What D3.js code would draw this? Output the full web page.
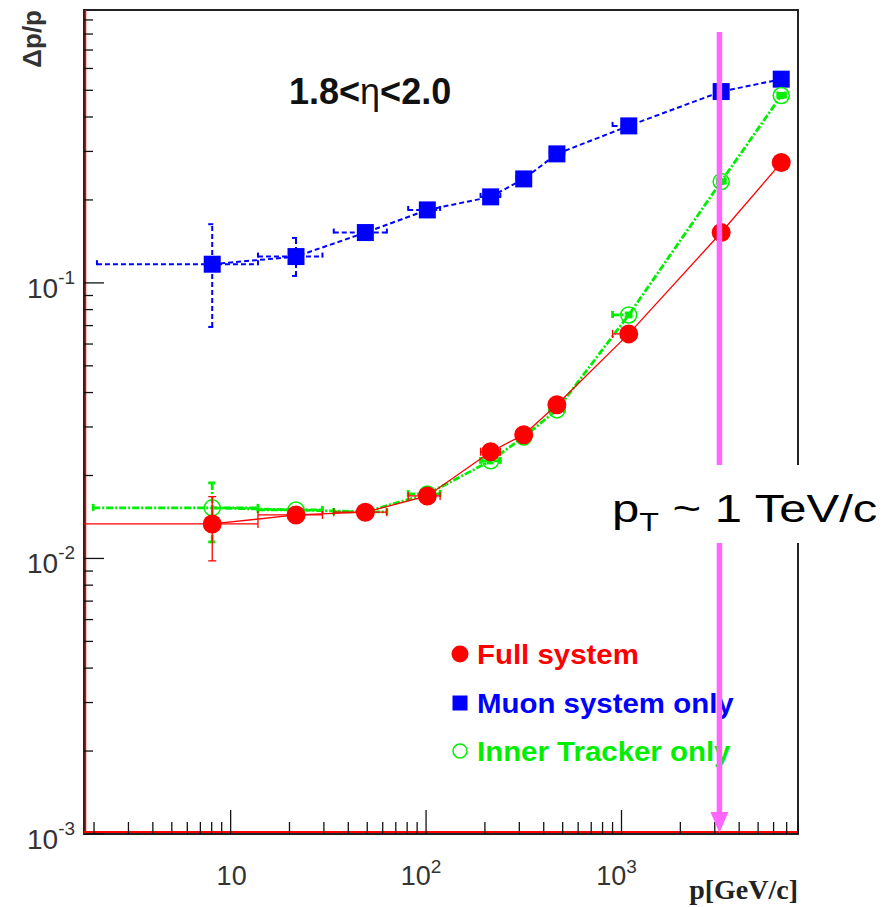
<!DOCTYPE html>
<html><head><meta charset="utf-8">
<script src="https://cdn.jsdelivr.net/npm/d3@7"></script>
<style>body{margin:0;background:#fff}svg{display:block}text{font-family:Arial,"Liberation Sans",Helvetica,sans-serif}</style>
</head><body>
<script>
// ---- data ----
const pValues = [8.05, 21.6, 48.9, 101.5, 214, 316, 467, 1089, 3236, 6566];
const xLo = [2.07, 13.8, 33.7, 81, 190, 290, 430, 900, 3100, 6300];
const xHi = [13.8, 29.5, 63, 118, 240, 340, 510, 1120, 3400, 6900];
const fullSystem = [0.01334, 0.01438, 0.01472, 0.01686, 0.0244, 0.0281, 0.0361, 0.0653, 0.1523, 0.2733];
const fullErrLo = [0.0098, 0.0141, 0.0145, 0.0165, 0.0239, 0.0276, 0.0355, 0.0642, 0.150, 0.270];
const fullErrHi = [0.01676, 0.0147, 0.0150, 0.0172, 0.0249, 0.0286, 0.0367, 0.0664, 0.155, 0.277];
const muonOnly = [0.1169, 0.1246, 0.1523, 0.184, 0.2052, 0.2384, 0.2939, 0.3713, 0.4947, 0.5487];
const muonErrLo = [0.0692, 0.106, 0.148, 0.175, 0.199, 0.232, 0.282, 0.362, 0.482, 0.535];
const muonErrHi = [0.1633, 0.1456, 0.157, 0.193, 0.212, 0.245, 0.307, 0.381, 0.508, 0.563];
const innerTracker = [0.01526, 0.0150, 0.01475, 0.01714, 0.0226, 0.0276, 0.0346, 0.0765, 0.2332, 0.4785];
const innerErrLo = [0.01148, 0.0147, 0.0145, 0.0168, 0.0222, 0.0271, 0.0340, 0.0752, 0.229, 0.470];
const innerErrHi = [0.0188, 0.0153, 0.0150, 0.0175, 0.0230, 0.0281, 0.0352, 0.0778, 0.237, 0.487];
const firstXLo = {full: 1.5, muon: 2.07, inner: 1.98};
const xTickVals = [10, 100, 1000];
const xTickLabels = [["10",""], ["10","2"], ["10","3"]];
const yTickVals = [0.1, 0.01, 0.001];
const yTickLabels = [["10","-1"], ["10","-2"], ["10","-3"]];
const legendLabels = ["Full system", "Muon system only", "Inner Tracker only"];
const titleParts = ["1.8<", "η", "<2.0"];
const markerP = 3170; // pT ~ 1 TeV/c marker position

const W = 891, H = 907;
const L = 84, R = 798, T = 10, B = 834;
const svg = d3.select("body").append("svg").attr("width", W).attr("height", H);
const x = d3.scaleLog().domain([1.777, 8000]).range([L, R]);
const y = d3.scaleLog().domain([0.001, 0.978]).range([B, T]);

svg.append("defs").append("clipPath").attr("id","clip")
  .append("rect").attr("x", L).attr("y", T).attr("width", R-L).attr("height", B-T);

// frame
svg.append("rect").attr("x", L).attr("y", T).attr("width", R-L).attr("height", B-T)
  .attr("fill","none").attr("stroke","#222").attr("stroke-width",2);
svg.append("line").attr("x1", L+1.5).attr("x2", L+1.5).attr("y1", T).attr("y2", B).attr("stroke","#e00").attr("stroke-width",1.5);
svg.append("line").attr("x1", L).attr("x2", R).attr("y1", B-2).attr("y2", B-2).attr("stroke","#f00").attr("stroke-width",2);

// x ticks
const xMinor = [];
[1,10,100,1000].forEach(d => { for (let k=1;k<10;k++){ const v=d*k; if (v>=1.777 && v<=8000) xMinor.push(v);} });
svg.append("g").selectAll("line").data(xMinor).join("line")
  .attr("x1", d=>x(d)).attr("x2", d=>x(d))
  .attr("y1", B).attr("y2", d => xTickVals.includes(d) ? B-24 : B-12)
  .attr("stroke","#111").attr("stroke-width",1.3);
const xl = svg.append("g").selectAll("text").data(xTickVals).join("text")
  .attr("x", (d,i)=> x(d) + (xTickLabels[i][1] ? -5 : 1)).attr("y", 885)
  .attr("text-anchor","middle").attr("font-size",27).attr("fill","#333");
xl.append("tspan").text((d,i)=>xTickLabels[i][0]);
xl.append("tspan").attr("dy",-12).attr("font-size",19).text((d,i)=>xTickLabels[i][1]);

// y ticks
const yMinor = [];
[0.001,0.01,0.1].forEach(d => { for (let k=1;k<10;k++){ const v=d*k; if (v<=0.978) yMinor.push(v);} });
svg.append("g").selectAll("line").data(yMinor).join("line")
  .attr("x1", L).attr("x2", d => yTickVals.some(t=>Math.abs(t-d)<1e-9) ? L+20 : L+9)
  .attr("y1", d=>y(d)).attr("y2", d=>y(d))
  .attr("stroke","#111").attr("stroke-width",1.3);
const yl = svg.append("g").selectAll("text").data(yTickVals).join("text")
  .attr("x", 27).attr("y", d=>y(d)+15)
  .attr("font-size",28).attr("fill","#333");
yl.append("tspan").text((d,i)=>yTickLabels[i][0]);
yl.append("tspan").attr("dy",-14).attr("font-size",19).text((d,i)=>yTickLabels[i][1]);

// axis titles
svg.append("text").attr("transform","translate(41,10) rotate(-90)").attr("text-anchor","end")
  .attr("font-size",26).attr("font-weight","bold").attr("fill","#333").text("Δp/p");
svg.append("text").attr("x", 798).attr("y", 899).attr("text-anchor","end")
  .style("font-family","'Liberation Serif','Times New Roman',serif")
  .attr("font-size",28).attr("font-weight","bold").attr("fill","#222").text("p[GeV/c]");

// title
const tt = svg.append("text").attr("x", 289).attr("y", 104).attr("font-size",36).attr("font-weight","bold").attr("fill","#111");
tt.append("tspan").text(titleParts[0]);
tt.append("tspan").attr("font-weight","normal").text(titleParts[1]);
tt.append("tspan").text(titleParts[2]);

// series
const plot = svg.append("g").attr("clip-path","url(#clip)");
function series(key, vals, lo, hi, color, dash, width) {
  const pts = pValues.map((p,i)=>({p, v: vals[i], lo: lo[i], hi: hi[i], xl: i===0 ? firstXLo[key] : xLo[i], xh: xHi[i]}));
  const g = plot.append("g");
  g.append("path").datum(pts).attr("fill","none").attr("stroke",color).attr("stroke-width",width)
    .attr("stroke-dasharray", dash)
    .attr("d", d3.line().x(d=>x(d.p)).y(d=>y(d.v)));
  const eb = g.append("g").attr("stroke",color).attr("stroke-width",width).attr("stroke-dasharray", dash).attr("fill","none");
  pts.forEach(d => {
    eb.append("line").attr("x1", x(d.xl)).attr("x2", x(d.xh)).attr("y1", y(d.v)).attr("y2", y(d.v));
    eb.append("line").attr("x1", x(d.xl)).attr("x2", x(d.xl)).attr("y1", y(d.v)-4).attr("y2", y(d.v)+4).attr("stroke-dasharray",null);
    eb.append("line").attr("x1", x(d.xh)).attr("x2", x(d.xh)).attr("y1", y(d.v)-4).attr("y2", y(d.v)+4).attr("stroke-dasharray",null);
    eb.append("line").attr("x1", x(d.p)).attr("x2", x(d.p)).attr("y1", y(d.lo)).attr("y2", y(d.hi));
    eb.append("line").attr("x1", x(d.p)-4).attr("x2", x(d.p)+4).attr("y1", y(d.lo)).attr("y2", y(d.lo)).attr("stroke-dasharray",null);
    eb.append("line").attr("x1", x(d.p)-4).attr("x2", x(d.p)+4).attr("y1", y(d.hi)).attr("y2", y(d.hi)).attr("stroke-dasharray",null);
  });
  return {g, pts};
}
const mu = series("muon", muonOnly, muonErrLo, muonErrHi, "#0000ff", "5,3", 2);
mu.g.selectAll("rect.m").data(mu.pts).join("rect").attr("class","m")
  .attr("x", d=>x(d.p)-8.5).attr("y", d=>y(d.v)-8.5).attr("width",17).attr("height",17).attr("fill","#0000ff");
const it = series("inner", innerTracker, innerErrLo, innerErrHi, "#00ee00", "7,2,2,2", 2.8);
it.g.selectAll("circle.m").data(it.pts).join("circle").attr("class","m")
  .attr("cx", d=>x(d.p)).attr("cy", d=>y(d.v)).attr("r",8).attr("fill","none").attr("stroke","#00ee00").attr("stroke-width",1.5);
const fs = series("full", fullSystem, fullErrLo, fullErrHi, "#ff0000", null, 1.3);
fs.g.selectAll("circle.m").data(fs.pts).join("circle").attr("class","m")
  .attr("cx", d=>x(d.p)).attr("cy", d=>y(d.v)).attr("r",9.5).attr("fill","#ff0000");

// legend
const legColors = ["#ff0000", "#0000ff", "#00ee00"];
const legY = [654, 703, 751];
const lg = svg.append("g");
lg.append("circle").attr("cx",460).attr("cy",legY[0]).attr("r",8.5).attr("fill",legColors[0]);
lg.append("rect").attr("x",452.5).attr("y",legY[1]-7.5).attr("width",15).attr("height",15).attr("fill",legColors[1]);
lg.append("circle").attr("cx",460).attr("cy",legY[2]).attr("r",7).attr("fill","none").attr("stroke",legColors[2]).attr("stroke-width",1.5);
lg.selectAll("text").data(legendLabels).join("text")
  .attr("transform",(d,i)=>`translate(477,${legY[i]+9.5}) scale(1.09,1)`)
  .attr("font-size",27).attr("font-weight","bold")
  .attr("fill",(d,i)=>legColors[i]).text(d=>d);

// pink arrow
const ax = x(markerP);
svg.append("line").attr("x1",ax).attr("x2",ax).attr("y1",32).attr("y2",815).attr("stroke","#ff66ff").attr("stroke-width",5.5);
svg.append("path").attr("d",`M${ax-9},812L${ax+9},812L${ax},833Z`).attr("fill","#ff66ff");

// label box
svg.append("rect").attr("x",575).attr("y",465).attr("width",316).attr("height",78).attr("fill","#fff");
const lab = svg.append("text").attr("transform","translate(612,522) scale(1.29,1)").attr("font-size",38).attr("fill","#000");
lab.append("tspan").text("p");
lab.append("tspan").attr("dy",9).attr("font-size",25).text("T");
lab.append("tspan").attr("dy",-9).text(" ~ 1 TeV/c");
</script>
</body></html>
